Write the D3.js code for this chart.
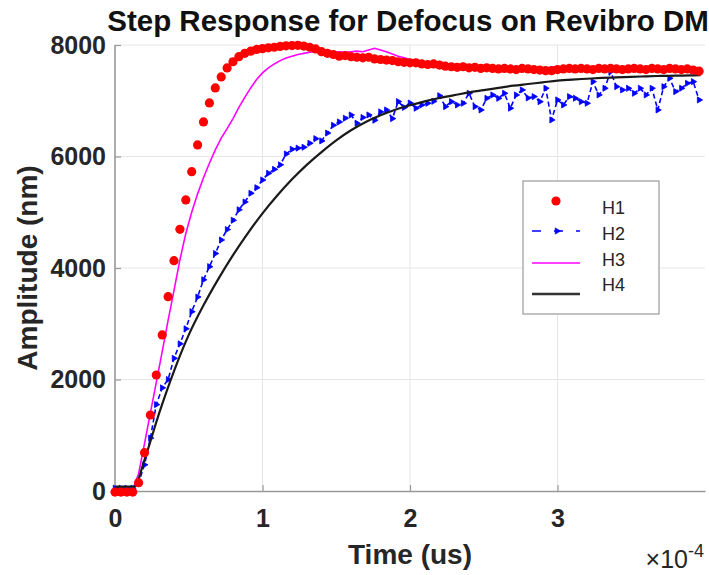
<!DOCTYPE html>
<html><head><meta charset="utf-8">
<script src="https://cdn.jsdelivr.net/npm/d3@7"></script>
<style>
body{margin:0;background:#fff;}
svg{display:block;font-family:"Liberation Sans",Arial,Helvetica,sans-serif;}
</style>
</head><body>
<svg id="chart" width="709" height="575"></svg>
<script>
// ---------- data ----------
const chartTitle = "Step Response for Defocus on Revibro DM";
const xLabel = "Time (us)";
const yLabel = "Amplitude (nm)";
const xTicks = [0, 1, 2, 3];
const yTicks = [0, 2000, 4000, 6000, 8000];
const seriesNames = ["H1", "H2", "H3", "H4"];
const xDomain = [0, 4];        // in units of 1e-4
const yDomain = [0, 8000];
const sampleStep = 0.04;       // sample spacing of H1..H3, units of 1e-4

const h1 = [-20,-20,-20,-20,150,687,1363,2081,2799,3486,
  4131,4694,5221,5728,6207,6620,6961,7230,7427,7589,
  7700,7790,7850,7890,7920,7935,7950,7960,7975,7985,
  7990,7995,7980,7960,7930,7880,7850,7830,7800,7810,
  7790,7780,7770,7780,7750,7740,7730,7720,7700,7690,
  7680,7680,7660,7650,7660,7640,7620,7610,7600,7610,
  7590,7600,7580,7590,7580,7570,7580,7570,7560,7580,
  7570,7560,7550,7540,7540,7560,7570,7580,7570,7580,
  7570,7560,7580,7570,7580,7570,7560,7570,7580,7570,
  7560,7580,7570,7560,7580,7570,7560,7570,7550,7530];

const h2 = [50,50,50,50,150,470,950,1550,1850,2000,
  2380,2640,2910,3217,3480,3790,4024,4260,4503,4690,
  4855,5045,5185,5340,5441,5579,5699,5770,5850,6046,
  6130,6150,6166,6238,6320,6280,6420,6560,6620,6686,
  6745,6596,6700,6745,6650,6800,6835,6680,6985,6880,
  6960,6866,6925,6955,6990,7090,6895,6984,6925,6955,
  7134,6895,6835,7044,7104,7044,7134,6866,7104,7194,
  7050,7074,6984,7224,6656,7015,6925,7074,7045,6984,
  6955,7343,7104,7224,7522,7253,7194,7224,7134,7224,
  7104,7224,6835,7253,7403,7164,7224,7313,7343,7015];

const h3 = [30,30,30,30,310,850,1400,1950,2500,3060,
  3600,4144,4620,5000,5330,5620,5880,6120,6330,6500,
  6680,6880,7060,7230,7380,7500,7590,7660,7720,7765,
  7800,7830,7850,7870,7880,7885,7880,7870,7880,7870,
  7880,7890,7880,7910,7940,7910,7880,7840,7800,7770,
  7740,7720,7700,7690,7700,7680,7660,7650,7640,7650,
  7630,7630,7610,7610,7600,7610,7600,7590,7600,7610,
  7600,7590,7600,7590,7600,7610,7600,7590,7610,7600,
  7590,7600,7610,7600,7590,7600,7610,7600,7590,7600,
  7610,7600,7590,7600,7610,7600,7590,7600,7590,7580];

const h4Time = [0,0.13,0.2,0.3,0.4,0.5,0.6,0.7,0.8,0.9,1.0,1.1,1.2,1.3,1.4,1.5,1.6,1.7,1.8,1.9,
  2.0,2.1,2.2,2.3,2.4,2.5,2.6,2.7,2.8,2.9,3.0,3.1,3.2,3.3,3.4,3.5,3.6,3.7,3.8,3.9,3.97];
const h4 = [77,77,560,1400,2150,2800,3330,3800,4230,4620,4980,5300,5590,5850,6080,6290,6470,6620,6740,6840,
  6920,6990,7050,7100,7150,7190,7230,7270,7300,7330,7360,7380,7395,7410,7420,7430,7438,7445,7450,7455,7460];

// ---------- build ----------
const svg = d3.select("#chart");
const plot = {left: 115, right: 705, top: 45, bottom: 491};

const x = d3.scaleLinear().domain(xDomain).range([plot.left, plot.right]);
const y = d3.scaleLinear().domain(yDomain).range([plot.bottom, plot.top]);

const toPts = (vals, times) => vals.map((v, i) => ({t: times ? times[i] : i * sampleStep, v}));
const d1 = toPts(h1), d2 = toPts(h2), d3s = toPts(h3), d4 = toPts(h4, h4Time);

// grid
const grid = svg.append("g");
grid.selectAll(".gx").data(xTicks.filter(d => d > 0)).enter().append("line")
  .attr("x1", d => x(d)).attr("x2", d => x(d))
  .attr("y1", plot.top).attr("y2", plot.bottom)
  .attr("stroke", "#e6e6e6").attr("stroke-width", 1);
grid.selectAll(".gy").data(yTicks.filter(d => d > 0)).enter().append("line")
  .attr("y1", d => y(d)).attr("y2", d => y(d))
  .attr("x1", plot.left).attr("x2", plot.right)
  .attr("stroke", "#e6e6e6").attr("stroke-width", 1);

// axes
const xAxis = d3.axisBottom(x).tickValues(xTicks).tickFormat(d3.format("d"))
  .tickSizeInner(-6).tickSizeOuter(0).tickPadding(18);
const yAxis = d3.axisLeft(y).tickValues(yTicks).tickFormat(d3.format("d"))
  .tickSizeInner(-6).tickSizeOuter(0).tickPadding(9);

const gx = svg.append("g").attr("transform", `translate(0,${plot.bottom})`).call(xAxis);
const gy = svg.append("g").attr("transform", `translate(${plot.left},0)`).call(yAxis);
[gx, gy].forEach(g => {
  g.select(".domain").attr("stroke", "#999").attr("stroke-width", 1.6);
  g.selectAll(".tick line").attr("stroke", "#999").attr("stroke-width", 1.2);
  g.selectAll(".tick text").attr("fill", "#262626").attr("font-size", 25)
    .attr("font-weight", "bold").attr("font-family", '"Liberation Sans",Arial,sans-serif');
});
gy.select(".domain").attr("d", `M0,${plot.bottom}V${plot.top}`);

// series
const lineGen = d3.line().x(d => x(d.t)).y(d => y(d.v));

// H3 magenta
svg.append("path").datum(d3s).attr("d", lineGen)
  .attr("fill", "none").attr("stroke", "#ff00ff").attr("stroke-width", 1.6);

// H2 blue dashed with triangle markers
svg.append("path").datum(d2).attr("d", lineGen)
  .attr("fill", "none").attr("stroke", "#0000ff").attr("stroke-width", 1.6)
  .attr("stroke-dasharray", "5,3");
const tri = d3.symbol().type(d3.symbolTriangle).size(16);
svg.append("g").selectAll("path").data(d2).enter().append("path")
  .attr("d", tri)
  .attr("transform", d => `translate(${x(d.t)},${y(d.v)}) rotate(90)`)
  .attr("fill", "#0000ff").attr("stroke", "#0000ff").attr("stroke-width", 0.8);

// H4 black
svg.append("path").datum(d4).attr("d", d3.line().x(d => x(d.t)).y(d => y(d.v)).curve(d3.curveMonotoneX))
  .attr("fill", "none").attr("stroke", "#1a1a1a").attr("stroke-width", 2.2);

// H1 red dots
svg.append("g").selectAll("circle").data(d1).enter().append("circle")
  .attr("cx", d => x(d.t)).attr("cy", d => y(d.v)).attr("r", 4.6)
  .attr("fill", "#ff0000");

// title & labels
svg.append("text").attr("x", 408).attr("y", 31).attr("text-anchor", "middle")
  .attr("font-size", 29.5).attr("font-weight", "bold").attr("fill", "#111")
  .text(chartTitle);
svg.append("text").attr("x", (plot.left + plot.right) / 2).attr("y", 564)
  .attr("text-anchor", "middle").attr("font-size", 28).attr("font-weight", "bold")
  .attr("fill", "#262626").text(xLabel);
svg.append("text").attr("transform", `translate(37,${(plot.top + plot.bottom) / 2}) rotate(-90)`)
  .attr("text-anchor", "middle").attr("font-size", 28).attr("font-weight", "bold")
  .attr("fill", "#262626").text(yLabel);
const ex = svg.append("text").attr("x", 704).attr("y", 568).attr("text-anchor", "end")
  .attr("fill", "#262626").attr("font-size", 25);
ex.append("tspan").text("×10");
ex.append("tspan").attr("font-size", 18).attr("dy", -11).text("-4");

// legend
const lg = svg.append("g");
lg.append("rect").attr("x", 523).attr("y", 181).attr("width", 136).attr("height", 133)
  .attr("fill", "#fff").attr("stroke", "#999").attr("stroke-width", 1.2);
const legendTextY = [208, 234, 260, 285];
const legendMarkY = [201, 231, 263, 294];
lg.selectAll("text").data(seriesNames).enter().append("text")
  .attr("x", 602).attr("y", (d, i) => legendTextY[i]).attr("dy", "0.35em")
  .attr("font-size", 18).attr("fill", "#262626").text(d => d);
lg.append("circle").attr("cx", 556).attr("cy", legendMarkY[0]).attr("r", 4.6).attr("fill", "#ff0000");
lg.append("line").attr("x1", 532).attr("x2", 580).attr("y1", legendMarkY[1]).attr("y2", legendMarkY[1])
  .attr("stroke", "#0000ff").attr("stroke-width", 1.6).attr("stroke-dasharray", "9,13");
lg.append("path").attr("d", tri).attr("transform", `translate(557,${legendMarkY[1]}) rotate(90)`)
  .attr("fill", "#0000ff").attr("stroke", "#0000ff").attr("stroke-width", 0.8);
lg.append("line").attr("x1", 532).attr("x2", 580).attr("y1", legendMarkY[2]).attr("y2", legendMarkY[2])
  .attr("stroke", "#ff00ff").attr("stroke-width", 1.6);
lg.append("line").attr("x1", 532).attr("x2", 580).attr("y1", legendMarkY[3]).attr("y2", legendMarkY[3])
  .attr("stroke", "#333").attr("stroke-width", 2.5);
</script>
</body></html>
